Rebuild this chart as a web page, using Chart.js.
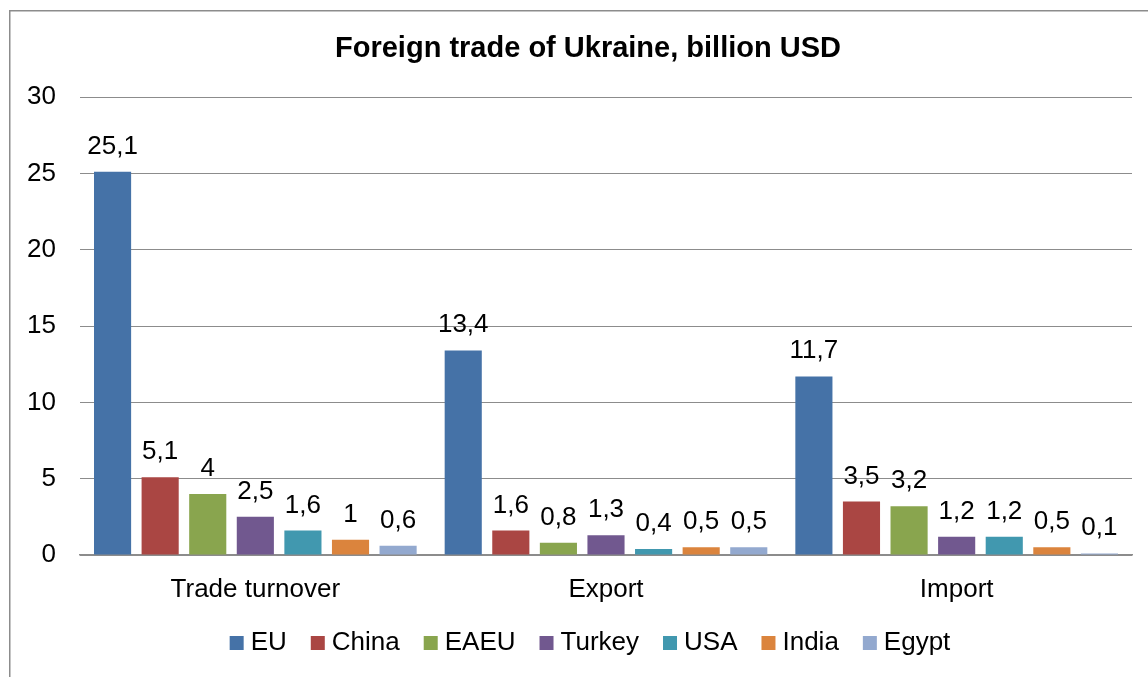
<!DOCTYPE html>
<html>
<head>
<meta charset="utf-8">
<script src="https://cdn.jsdelivr.net/npm/chart.js@4"></script>
<style>
  html, body { margin: 0; padding: 0; background: #fff; }
  #wrap { position: relative; width: 1148px; height: 677px; overflow: hidden; }
</style>
</head>
<body>
<div id="wrap"><canvas id="c" width="1148" height="677"></canvas></div>
<script>
const titleText = 'Foreign trade of Ukraine, billion USD';
const categories = ['Trade turnover', 'Export', 'Import'];
const seriesNames = ['EU', 'China', 'EAEU', 'Turkey', 'USA', 'India', 'Egypt'];
const EU     = [25.1, 13.4, 11.7];
const China  = [5.1, 1.6, 3.5];
const EAEU   = [4, 0.8, 3.2];
const Turkey = [2.5, 1.3, 1.2];
const USA    = [1.6, 0.4, 1.2];
const India  = [1, 0.5, 0.5];
const Egypt  = [0.6, 0.5, 0.1];
const yTicks = [0, 5, 10, 15, 20, 25, 30];
const seriesValues = [EU, China, EAEU, Turkey, USA, India, Egypt];
const colors = ['#4572A7', '#AA4643', '#89A54E', '#71588F', '#4198AF', '#DB843D', '#93A9CF'];

const FONT = '"Liberation Sans", Arial, sans-serif';

const fmt = v => String(v).replace('.', ',');

const framePlugin = {
  id: 'frame',
  beforeDraw(chart) {
    const ctx = chart.ctx;
    ctx.save();
    ctx.fillStyle = '#fff';
    ctx.fillRect(0, 0, chart.width, chart.height);
    ctx.strokeStyle = '#8c8c8c';
    ctx.lineWidth = 1.5;
    ctx.strokeRect(9.75, 10.75, 1200, 720);
    ctx.restore();
  }
};

const labelsPlugin = {
  id: 'valLabels',
  afterDatasetsDraw(chart) {
    const ctx = chart.ctx;
    ctx.save();
    ctx.font = '26px ' + FONT;
    ctx.fillStyle = '#000';
    ctx.textAlign = 'center';
    ctx.textBaseline = 'alphabetic';
    chart.data.datasets.forEach((ds, i) => {
      const meta = chart.getDatasetMeta(i);
      meta.data.forEach((bar, j) => {
        ctx.fillText(fmt(ds.data[j]), bar.x, bar.y - 18);
      });
    });
    ctx.restore();
  }
};

const titleLegendPlugin = {
  id: 'titleLegend',
  afterDraw(chart) {
    const ctx = chart.ctx;
    ctx.save();
    // title
    ctx.font = 'bold 29px ' + FONT;
    ctx.fillStyle = '#000';
    ctx.textAlign = 'center';
    ctx.textBaseline = 'middle';
    ctx.fillText(titleText, 588, 49);
    // legend
    ctx.font = '26px ' + FONT;
    ctx.textAlign = 'left';
    const box = 14, gapBT = 7, gapItem = 24;
    const widths = seriesNames.map(n => ctx.measureText(n).width);
    let total = widths.reduce((a, b) => a + b, 0) + seriesNames.length * (box + gapBT) + (seriesNames.length - 1) * gapItem;
    let x = 590 - total / 2;
    const cy = 643;
    seriesNames.forEach((n, i) => {
      ctx.fillStyle = colors[i];
      ctx.fillRect(x, cy - box / 2, box, box);
      ctx.fillStyle = '#000';
      ctx.fillText(n, x + box + gapBT, cy);
      x += box + gapBT + widths[i] + gapItem;
    });
    ctx.restore();
  }
};

new Chart(document.getElementById('c'), {
  type: 'bar',
  data: {
    labels: categories,
    datasets: seriesNames.map((n, i) => ({
      label: n,
      data: seriesValues[i],
      backgroundColor: colors[i],
      borderWidth: 0,
      categoryPercentage: 0.95,
      barPercentage: 0.78
    }))
  },
  options: {
    responsive: false,
    animation: false,
    devicePixelRatio: 1,
    layout: { padding: { top: 97, left: 0, right: 16, bottom: 0 } },
    plugins: {
      legend: { display: false },
      title: { display: false },
      tooltip: { enabled: false }
    },
    scales: {
      x: {
        grid: { display: false, drawTicks: false },
        border: { display: true, color: '#8c8c8c', width: 1.5 },
        ticks: { font: { size: 26, family: FONT }, color: '#000', padding: 19 },
        afterFit(s) { s.height = 122; }
      },
      y: {
        min: 0, max: 30,
        afterBuildTicks(s) { s.ticks = yTicks.map(v => ({ value: v })); },
        grid: { color: '#8c8c8c', lineWidth: 1, drawTicks: false },
        border: { display: false },
        ticks: { font: { size: 26, family: FONT }, color: '#000', padding: 24 },
        afterFit(s) { s.width = 80; }
      }
    }
  },
  plugins: [framePlugin, labelsPlugin, titleLegendPlugin]
});
</script>
</body>
</html>
